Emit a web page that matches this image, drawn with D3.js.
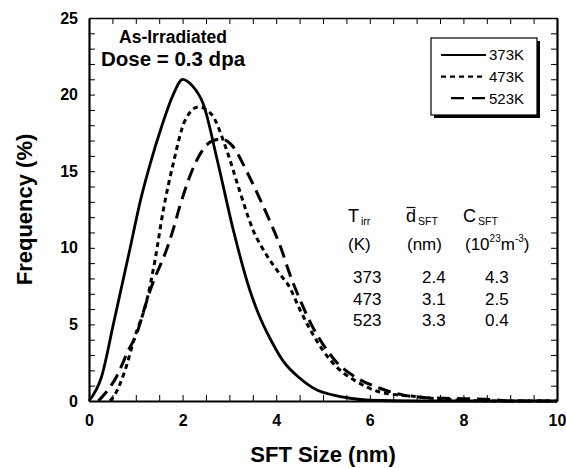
<!DOCTYPE html>
<html>
<head>
<meta charset="utf-8">
<script src="https://cdn.jsdelivr.net/npm/d3@7"></script>
<style>
  body { margin: 0; background: #fff; }
  text { font-family: Arial, "Liberation Sans", sans-serif; fill: #000; }
</style>
</head>
<body>
<div id="chart"></div>
<script>
// curve data
const size373 = [0, 0.27, 0.52, 0.88, 1.1, 1.3, 1.55, 1.8, 2.0, 2.2, 2.44, 2.75, 3.08, 3.44, 3.62, 3.9, 4.15, 4.5, 4.87, 5.2, 5.58, 6.0, 7, 8, 9, 10];
const freq373 = [0, 1.6, 5.0, 10.0, 13.1, 15.4, 17.9, 20.0, 21.0, 20.6, 19.4, 15.6, 11.2, 7.2, 5.7, 3.9, 2.6, 1.5, 0.72, 0.4, 0.18, 0.05, 0, 0, 0, 0];

const size473 = [0.45, 0.55, 0.77, 0.98, 1.23, 1.41, 1.59, 1.8, 2.05, 2.34, 2.62, 2.95, 3.2, 3.5, 3.8, 4.05, 4.29, 4.5, 4.72, 5.0, 5.3, 5.7, 6.2, 7.0, 7.5, 8.0, 8.5, 10];
const freq473 = [0, 0.4, 2.0, 4.2, 6.5, 9.2, 12.5, 15.5, 18.3, 19.2, 18.7, 16.3, 13.9, 11.2, 9.5, 8.4, 7.4, 6.0, 4.7, 3.3, 2.2, 1.3, 0.6, 0.28, 0.12, 0.05, 0, 0];

const size523 = [0.2, 0.59, 0.84, 1.02, 1.2, 1.34, 1.66, 1.8, 1.94, 2.3, 2.59, 2.83, 3.05, 3.4, 3.65, 3.87, 4.1, 4.3, 4.51, 4.75, 5.0, 5.3, 5.7, 6.2, 6.7, 7.2, 8.0, 8.6, 9.0, 10];
const freq523 = [0, 1.6, 3.3, 4.4, 6.2, 7.5, 9.9, 11.2, 12.7, 15.7, 16.9, 17.1, 16.7, 14.8, 13.2, 11.7, 10.0, 8.2, 6.6, 5.0, 3.7, 2.5, 1.55, 0.85, 0.4, 0.22, 0.15, 0.1, 0, 0];

const seriesNames = ["373K", "473K", "523K"];
const xLabels = [0, 2, 4, 6, 8, 10];
const yLabels = [0, 5, 10, 15, 20, 25];

// table in the plot
const tempK = ["373", "473", "523"];
const meanSize = ["2.4", "3.1", "3.3"];
const density = ["4.3", "2.5", "0.4"];

const W = 566, H = 468;
const margin = { top: 18, right: 9, bottom: 67, left: 89 };

const svg = d3.select("#chart").append("svg")
    .attr("width", W)
    .attr("height", H);

const x = d3.scaleLinear().domain([0, 10]).range([margin.left, W - margin.right]);
const y = d3.scaleLinear().domain([0, 25]).range([H - margin.bottom, margin.top]);

const styles = [
    { dash: null, width: 2.8 },
    { dash: "5,4", width: 3 },
    { dash: "13,7", width: 3 }
];

const series = [
    size373.map((s, i) => ({ s, f: freq373[i] })),
    size473.map((s, i) => ({ s, f: freq473[i] })),
    size523.map((s, i) => ({ s, f: freq523[i] }))
];

const line = d3.line()
    .x(d => x(d.s))
    .y(d => y(d.f))
    .curve(d3.curveMonotoneX);

svg.selectAll(".curve")
    .data(series)
    .enter()
    .append("path")
    .attr("class", "curve")
    .attr("d", line)
    .attr("fill", "none")
    .attr("stroke", "#000")
    .attr("stroke-width", (d, i) => styles[i].width)
    .attr("stroke-dasharray", (d, i) => styles[i].dash);

// axes - ticks point inward on all four sides
const xTicks = d3.range(0, 10.01, 0.5);
const yTicks = d3.range(0, 25.01, 1);

const axisB = svg.append("g")
    .attr("transform", `translate(0,${y(0)})`)
    .call(d3.axisBottom(x).tickValues(xTicks).tickSize(-6).tickSizeOuter(0).tickPadding(14)
        .tickFormat(d => xLabels.includes(d) ? d : ""));

const axisL = svg.append("g")
    .attr("transform", `translate(${x(0)},0)`)
    .call(d3.axisLeft(y).tickValues(yTicks).tickSize(-6).tickSizeOuter(0).tickPadding(11)
        .tickFormat(d => yLabels.includes(d) ? d : ""));

const axisT = svg.append("g")
    .attr("transform", `translate(0,${y(25)})`)
    .call(d3.axisTop(x).tickValues(xTicks).tickSize(-6).tickSizeOuter(0).tickFormat(""));

const axisR = svg.append("g")
    .attr("transform", `translate(${x(10)},0)`)
    .call(d3.axisRight(y).tickValues(yTicks).tickSize(-6).tickSizeOuter(0).tickFormat(""));

[axisB, axisL, axisT, axisR].forEach(g => {
    g.select(".domain").attr("stroke", "#000").attr("stroke-width", 2.2);
    g.selectAll(".tick line").attr("stroke", "#000").attr("stroke-width", 1);
    g.selectAll(".tick text")
        .style("font-family", "Arial, 'Liberation Sans', sans-serif")
        .style("font-size", "16px")
        .style("font-weight", "bold")
        .attr("fill", "#000");
});
axisT.select(".domain").attr("stroke-width", 1.5);

// axis titles
svg.append("text")
    .attr("x", (x(0) + x(10)) / 2)
    .attr("y", 462)
    .attr("text-anchor", "middle")
    .style("font-size", "22px")
    .style("font-weight", "bold")
    .text("SFT Size (nm)");

svg.append("text")
    .attr("transform", `translate(32,${(y(0) + y(25)) / 2}) rotate(-90)`)
    .attr("text-anchor", "middle")
    .style("font-size", "22px")
    .style("font-weight", "bold")
    .text("Frequency (%)");

// annotation
svg.append("text")
    .attr("x", 173)
    .attr("y", 42.5)
    .attr("text-anchor", "middle")
    .style("font-size", "17.5px")
    .style("font-weight", "bold")
    .text("As-Irradiated");

svg.append("text")
    .attr("x", 173)
    .attr("y", 66)
    .attr("text-anchor", "middle")
    .style("font-size", "20.5px")
    .style("font-weight", "bold")
    .text("Dose = 0.3 dpa");

// legend with drop shadow
const lg = svg.append("g").attr("transform", "translate(431,38)");
lg.append("rect").attr("x", 3).attr("y", 3).attr("width", 106).attr("height", 77).attr("fill", "#000");
lg.append("rect").attr("width", 106).attr("height", 77).attr("fill", "#fff").attr("stroke", "#000").attr("stroke-width", 1.2);

const legendRows = lg.selectAll(".leg")
    .data(seriesNames)
    .enter()
    .append("g")
    .attr("class", "leg")
    .attr("transform", (d, i) => `translate(0,${17 + i * 21.6})`);

legendRows.append("line")
    .attr("x1", (d, i) => i === 2 ? 20 : 10)
    .attr("x2", 55)
    .attr("stroke", "#000")
    .attr("stroke-width", 2.2)
    .attr("stroke-dasharray", (d, i) => i === 0 ? null : (i === 1 ? "5,4" : "13,8"));

legendRows.append("text")
    .attr("x", 58)
    .attr("dy", "0.36em")
    .style("font-size", "15px")
    .text(d => d);

// table of irradiation conditions
const tbl = svg.append("g");

function header(xp, main, sub) {
    const t = tbl.append("text").attr("x", xp).attr("y", 222).style("font-size", "18px");
    t.append("tspan").text(main);
    t.append("tspan").attr("dy", 3).attr("dx", 2).style("font-size", "10.5px").text(sub);
    return t;
}
header(348, "T", "irr");
header(406, "d", "SFT");
header(463, "C", "SFT");
tbl.append("line")
    .attr("x1", 406.5).attr("x2", 415.5)
    .attr("y1", 207.5).attr("y2", 207.5)
    .attr("stroke", "#000").attr("stroke-width", 1.2);

const units = tbl.append("g");
units.append("text").attr("x", 348).attr("y", 250).style("font-size", "17px").text("(K)");
units.append("text").attr("x", 407).attr("y", 250).style("font-size", "17px").text("(nm)");
const cu = units.append("text").attr("x", 465).attr("y", 250).style("font-size", "17px");
cu.append("tspan").text("(10");
cu.append("tspan").attr("dy", -8).style("font-size", "10px").text("23");
cu.append("tspan").attr("dy", 8).text("m");
cu.append("tspan").attr("dy", -8).style("font-size", "10px").text("-3");
cu.append("tspan").attr("dy", 8).text(")");

const cols = [
    { xp: 353, vals: tempK },
    { xp: 422, vals: meanSize },
    { xp: 485, vals: density }
];
cols.forEach(c => {
    tbl.selectAll(null)
        .data(c.vals)
        .enter()
        .append("text")
        .attr("x", c.xp)
        .attr("y", (d, i) => 283 + i * 21.7)
        .style("font-size", "17px")
        .text(d => d);
});
</script>
</body>
</html>
